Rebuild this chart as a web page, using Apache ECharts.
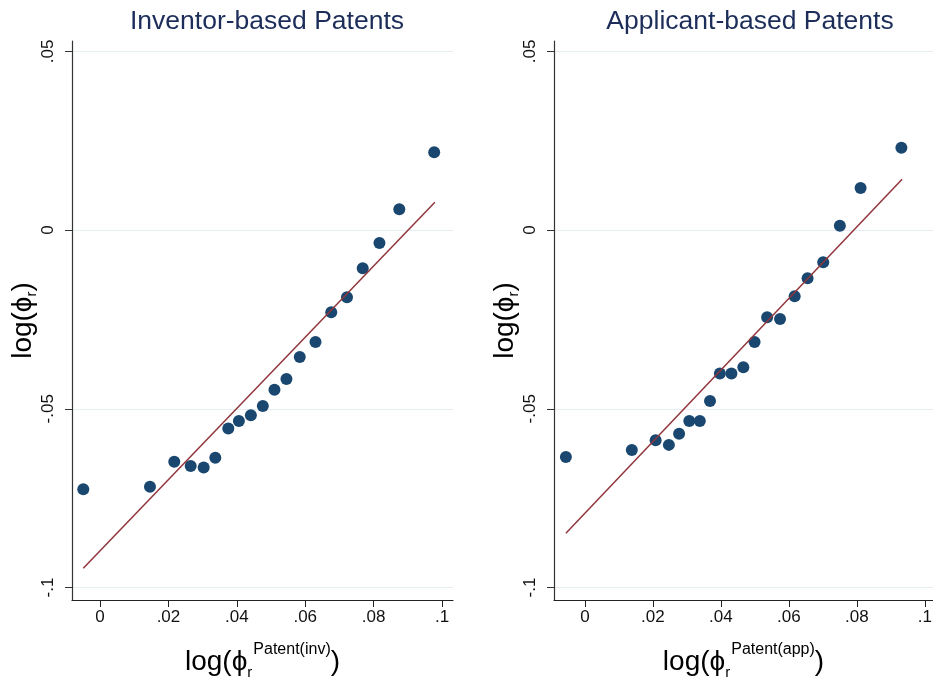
<!DOCTYPE html>
<html>
<head>
<meta charset="utf-8">
<script src="https://cdn.jsdelivr.net/npm/echarts@6/dist/echarts.min.js"></script>
<style>
  html, body { margin: 0; padding: 0; background: #fff; }
  #chart { width: 933px; height: 679px; }
</style>
</head>
<body>
<div id="chart"></div>
<script>
// inventor-based panel
const invX = [-0.0049, 0.0146, 0.0217, 0.0265, 0.0303, 0.0337, 0.0375, 0.0406, 0.0441, 0.0476,
  0.0510, 0.0545, 0.0584, 0.0630, 0.0676, 0.0722, 0.0768, 0.0817, 0.0875, 0.0977];
const invY = [-0.0725, -0.0718, -0.0648, -0.0660, -0.0664, -0.0637, -0.0555, -0.0534, -0.0518, -0.0492,
  -0.0447, -0.0417, -0.0355, -0.0313, -0.0230, -0.0188, -0.0107, -0.0036, 0.0058, 0.0218];
const invFitX = [-0.0049, 0.0979];
const invFitY = [-0.0946, 0.0078];

// applicant-based panel
const appX = [-0.0056, 0.0138, 0.0208, 0.0247, 0.0277, 0.0307, 0.0338, 0.0368, 0.0397, 0.0431,
  0.0466, 0.0499, 0.0536, 0.0574, 0.0617, 0.0655, 0.0701, 0.0750, 0.0811, 0.0931];
const appY = [-0.0635, -0.0615, -0.0588, -0.0601, -0.0570, -0.0534, -0.0534, -0.0478, -0.0401, -0.0401,
  -0.0384, -0.0313, -0.0244, -0.0249, -0.0185, -0.0135, -0.0090, 0.0012, 0.0118, 0.0230];
const appFitX = [-0.0056, 0.0933];
const appFitY = [-0.0848, 0.0142];

const xTicks = [0, 0.02, 0.04, 0.06, 0.08, 0.1];
const yTicks = [-0.1, -0.05, 0, 0.05];
const titles = ["Inventor-based Patents", "Applicant-based Patents"];
const xNames = ["Patent(inv)", "Patent(app)"];

const font = "Liberation Sans, Arial, sans-serif";
const fmt = (v) => {
  if (Math.abs(v) < 1e-9) return "0";
  let s = String(+v.toFixed(3));
  return s.replace(/^(-?)0\./, "$1.");
};
const pairs = (xs, ys) => xs.map((x, i) => [x, ys[i]]);

const chart = echarts.init(document.getElementById("chart"));

function xAxis(i, min, max) {
  return {
    type: "value", gridIndex: i, min: min, max: max,
    name: "{a|log(ϕ}{sub|r}{sup|" + xNames[i] + "}{a|)}",
    nameLocation: "middle", nameGap: 42,
    nameTextStyle: {
      rich: {
        a: { fontFamily: font, fontSize: 28, color: "#000", lineHeight: 40, verticalAlign: "middle" },
        sub: { fontFamily: font, fontSize: 15, color: "#000", verticalAlign: "bottom", padding: [0, 1, 2, 0] },
        sup: { fontFamily: font, fontSize: 16, color: "#000", verticalAlign: "top" }
      }
    },
    axisLine: { show: true, onZero: false, lineStyle: { color: "#222", width: 1.2 } },
    axisTick: { show: true, length: 7, customValues: xTicks, lineStyle: { color: "#222" } },
    axisLabel: { customValues: xTicks, formatter: fmt, fontFamily: font, fontSize: 17, color: "#111", margin: 9 },
    splitLine: { show: false }
  };
}

function yAxis(i) {
  return {
    type: "value", gridIndex: i, min: -0.1035, max: 0.0529,
    name: "{a|log(ϕ}{sub|r}{a|)}",
    nameLocation: "middle", nameGap: 31, nameRotate: 90,
    nameTextStyle: {
      rich: {
        a: { fontFamily: font, fontSize: 28, color: "#000", lineHeight: 36, verticalAlign: "middle" },
        sub: { fontFamily: font, fontSize: 15, color: "#000", verticalAlign: "bottom", padding: [0, 0, 2, 0] }
      }
    },
    axisLine: { show: true, onZero: false, lineStyle: { color: "#333", width: 1.2 } },
    axisTick: { show: true, length: 7, customValues: yTicks, lineStyle: { color: "#333" } },
    axisLabel: { customValues: yTicks, formatter: fmt, rotate: 90, fontFamily: font, fontSize: 17, color: "#111", margin: 15 },
    splitLine: { show: true, lineStyle: { color: "#e6eef1", width: 1.2 } }
  };
}

function scatter(i, xs, ys) {
  return {
    type: "scatter", xAxisIndex: i, yAxisIndex: i,
    data: pairs(xs, ys), symbolSize: 12,
    itemStyle: { color: "#1a476f", opacity: 1 }
  };
}

function fit(i, xs, ys) {
  return {
    type: "line", xAxisIndex: i, yAxisIndex: i,
    data: pairs(xs, ys), symbol: "none",
    lineStyle: { color: "#90353b", width: 1.5 }
  };
}

chart.setOption({
  animation: false,
  backgroundColor: "#fff",
  title: [
    { text: titles[0], left: 262, top: 3, textAlign: "center",
      textStyle: { fontFamily: font, fontSize: 26.5, fontWeight: "normal", color: "#1c2d5a" } },
    { text: titles[1], left: 745, top: 3, textAlign: "center",
      textStyle: { fontFamily: font, fontSize: 26.5, fontWeight: "normal", color: "#1c2d5a" } }
  ],
  grid: [
    { left: 72, top: 41, width: 381, height: 559, outerBoundsMode: "none" },
    { left: 554, top: 41, width: 379, height: 559, outerBoundsMode: "none" }
  ],
  xAxis: [xAxis(0, -0.0082, 0.1032), xAxis(1, -0.0091, 0.1024)],
  yAxis: [yAxis(0), yAxis(1)],
  series: [
    fit(0, invFitX, invFitY),
    scatter(0, invX, invY),
    fit(1, appFitX, appFitY),
    scatter(1, appX, appY)
  ]
});
</script>
</body>
</html>
